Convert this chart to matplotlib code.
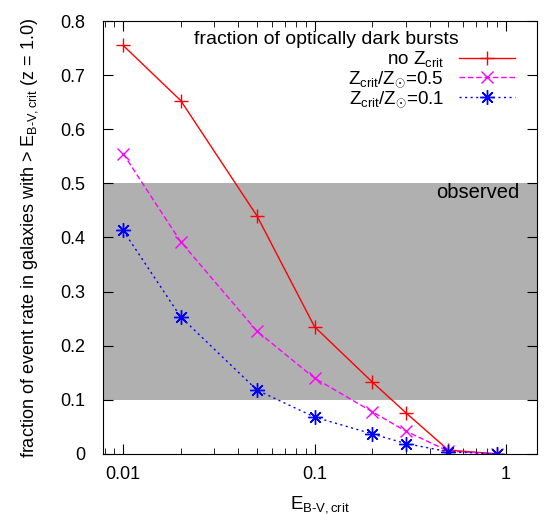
"""Fraction of optically dark bursts vs E(B-V) threshold
"""
import matplotlib
matplotlib.use('Agg')
import matplotlib.pyplot as plt
from matplotlib.ticker import FixedLocator, FormatStrFormatter, LogLocator, NullFormatter

plt.rcParams['font.family'] = ['Liberation Sans', 'DejaVu Sans']
plt.rcParams['mathtext.fontset'] = 'custom'
plt.rcParams['mathtext.rm'] = 'Liberation Sans'
plt.rcParams['mathtext.it'] = 'Liberation Sans'

# data
ebv_crit = [0.01, 0.02, 0.05, 0.1, 0.2, 0.3, 0.5, 0.9]
frac_no_zcrit = [0.755, 0.653, 0.440, 0.235, 0.133, 0.076, 0.007, 0.0]
frac_zcrit_05 = [0.555, 0.392, 0.227, 0.140, 0.078, 0.042, 0.005, 0.0]
frac_zcrit_01 = [0.413, 0.253, 0.118, 0.068, 0.037, 0.019, 0.004, 0.0]

observed_lo = 0.1
observed_hi = 0.5

x_ticks = [0.01, 0.1, 1]
y_ticks = [0, 0.1, 0.2, 0.3, 0.4, 0.5, 0.6, 0.7, 0.8]

fig = plt.figure(figsize=(5.45, 5.14), dpi=100)
ax = fig.add_axes([0.189, 0.117, 0.796, 0.842])

# observed band
ax.text(1.18, 0.484, 'observed', ha='right', va='center', fontsize=14.5)
ax.axhspan(observed_lo, observed_hi, color='#b0b0b0', lw=0, zorder=0)

ax.plot(ebv_crit, frac_no_zcrit, color='#ff0000', lw=1, ls='-',
        marker='+', ms=10.5, mew=1, label=r'no Z$_{\mathregular{crit}}$')
ax.plot(ebv_crit, frac_zcrit_05, color='#ff00ff', lw=1, ls=(0, (4, 2)),
        marker='x', ms=8.5, mew=1, label=r'Z$_{\mathregular{crit}}$/Z$_{\odot}$=0.5')
ax.plot(ebv_crit, frac_zcrit_01, color='#0000ff', lw=1, ls=(0, (1.5, 2.5)),
        marker=(8, 2, 0), ms=10.5, mew=1, label=r'Z$_{\mathregular{crit}}$/Z$_{\odot}$=0.1')

ax.set_xscale('log')
ax.set_xlim(0.00785, 1.45)
ax.set_ylim(0, 0.8)

ax.xaxis.set_major_locator(FixedLocator(x_ticks))
ax.xaxis.set_major_formatter(FormatStrFormatter('%g'))
ax.xaxis.set_minor_locator(LogLocator(base=10, subs=range(2, 10)))
ax.xaxis.set_minor_formatter(NullFormatter())
ax.yaxis.set_major_locator(FixedLocator(y_ticks))
ax.yaxis.set_major_formatter(FormatStrFormatter('%g'))

ax.tick_params(which='both', direction='in', top=True, right=True, labelsize=13)
ax.tick_params(axis='y', which='major', length=7, pad=13)
ax.tick_params(axis='x', which='major', length=7, pad=9)
ax.tick_params(axis='x', which='minor', length=4)

ax.set_xlabel(r'E$_{\mathregular{B\text{-}V,crit}}$', fontsize=13.5, labelpad=8)
ax.set_ylabel(r'fraction of event rate in galaxies with > E$_{\mathregular{B\text{-}V,crit}}$ (z = 1.0)',
              fontsize=13, labelpad=14)

ax.text(0.515, 0.978, 'fraction of optically dark bursts', transform=ax.transAxes,
        ha='center', va='top', fontsize=14)
ax.legend(loc='upper right', bbox_to_anchor=(0.95, 0.935), frameon=False,
          markerfirst=False, fontsize=13.5, handlelength=3.0, handletextpad=0.8,
          labelspacing=0.0, borderpad=0, borderaxespad=0)

fig.savefig('out.png', dpi=100)
